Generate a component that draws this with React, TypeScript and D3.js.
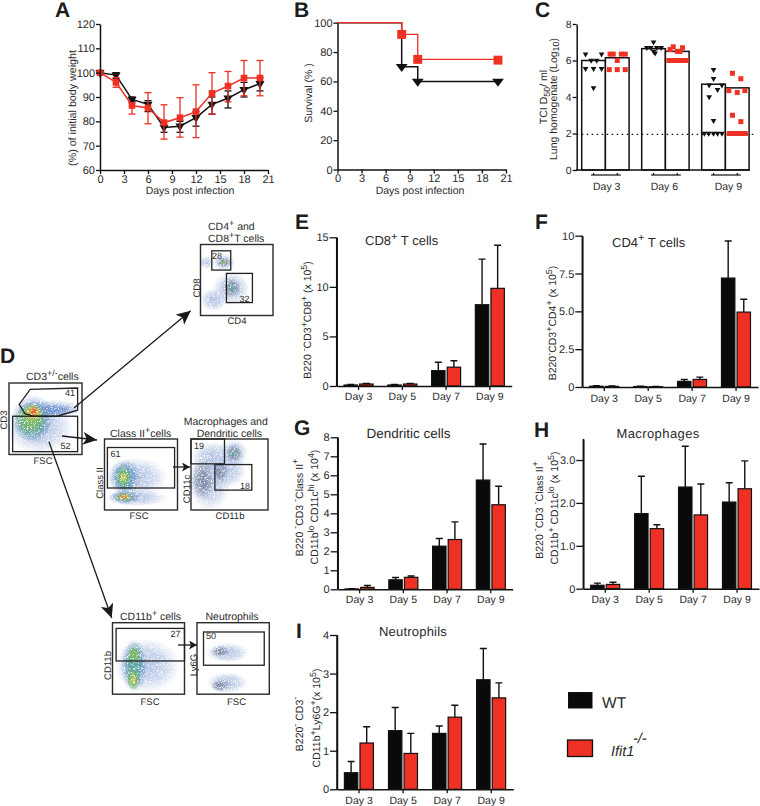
import React, { useEffect, useRef } from 'react';
import * as d3 from 'd3';

const RED = '#ee3124';
const INK = '#2a2a2a';
const FONT = '"Liberation Sans", Arial, sans-serif';

// panel A: weight
const weightDays = [0, 2, 4, 6, 8, 10, 12, 14, 16, 18, 20];
const weightWt = [100, 99, 89, 87, 77.5, 78, 81.5, 87, 89.5, 93, 95.5];
const weightWtHi = [100, 100, 90, 88.5, 80, 80, 84, 90, 92.5, 96, 98];
const weightWtLo = [100, 97.5, 88, 84, 75.5, 75.5, 78, 83, 85.5, 90, 92.5];
const weightKo = [100, 96, 86.5, 85.5, 79.5, 81.5, 84, 91.5, 94.5, 97.8, 97.8];
const weightKoHi = [100, 98, 87.5, 91.8, 86.8, 89.7, 95, 100, 100.5, 105, 105];
const weightKoLo = [100, 94, 83, 79, 72.7, 73.5, 73.3, 83, 88, 90.5, 90.5];

// panel B: survival
const survWtDays = [0, 8, 10, 20];
const survWt = [100, 70, 60, 60];
const survKoDays = [0, 8, 10, 20];
const survKo = [100, 92, 75, 75];
const survWtMarkDays = [8, 10, 20];
const survWtMarks = [70, 60, 60];
const survKoMarkDays = [8, 10, 20];
const survKoMarks = [92, 75, 74.5];

// panel C: titres
const titreDays = ['Day 3', 'Day 6', 'Day 9'];
const titreWtMean = [6.0, 6.65, 4.7];
const titreKoMean = [6.15, 6.5, 4.5];
const titreWt = [
  [6.35, 6.35, 6, 6, 5.55, 5.55, 5.55, 4.5],
  [7.0, 6.7, 6.7, 6.7, 6.7, 6.5, 6.4],
  [5.5, 5.0, 4.65, 4.65, 4.4, 4.0, 2.7, 2, 2, 2, 2, 2],
];
const titreWtSlots = [
  [-2, 2, -0.6, 0.8, -2, 0, 2, 0],
  [0, -1.7, -0.7, 0.8, 1.9, 0, 0.4],
  [0, 0, -1.1, 2.1, 1, -1.1, 0, -2.3, -1.2, 0, 1, 2.1],
];
const titreKo = [
  [6.35, 6.35, 6.35, 6.35, 6, 5.5, 5.5, 5.5],
  [6.75, 6.7, 6.6, 6.5, 6.5, 6, 6, 6, 6, 6],
  [5.3, 5.0, 4.35, 4.35, 4.25, 3.0, 2.65, 2, 2, 2, 2, 2],
];
const titreKoSlots = [
  [-1.8, -1, 1, 2, 0, -2, 0, 2],
  [-1, 1.3, -1.8, 0, 0.7, -2.1, -1, 0, 1.1, 2.3],
  [-1.2, 0.9, -2.1, 1.9, 0, -1.2, 0.9, -2, -1, 0, 1, 2],
];

// bar panels
const barDays = ['Day 3', 'Day 5', 'Day 7', 'Day 9'];
const cd8Wt = [0.1, 0.1, 1.55, 8.2];
const cd8Ko = [0.2, 0.2, 1.9, 9.85];
const cd8WtTop = [0.15, 0.15, 2.4, 12.8];
const cd8KoTop = [0.25, 0.25, 2.55, 14.2];
const cd4Wt = [0.05, 0.03, 0.37, 7.2];
const cd4Ko = [0.04, 0.02, 0.5, 4.95];
const cd4WtTop = [0.08, 0.05, 0.5, 9.65];
const cd4KoTop = [0.07, 0.04, 0.65, 5.8];
const dcWt = [0.02, 0.5, 2.27, 5.75];
const dcKo = [0.1, 0.63, 2.62, 4.45];
const dcWtTop = [0.03, 0.62, 2.67, 7.65];
const dcKoTop = [0.2, 0.7, 3.55, 5.42];
const macWt = [0.08, 1.75, 2.37, 2.02];
const macKo = [0.1, 1.4, 1.72, 2.33];
const macWtTop = [0.13, 2.62, 3.32, 2.47];
const macKoTop = [0.15, 1.49, 2.44, 2.98];
const neuWt = [0.43, 1.52, 1.45, 2.84];
const neuKo = [1.2, 0.93, 1.87, 2.37];
const neuWtTop = [0.72, 2.12, 1.64, 3.65];
const neuKoTop = [1.62, 1.45, 2.18, 2.76];

// flow plots: density clouds as [x%, y%, rx%, ry%, colour]
const HAZE = '#a9bbe0', BLUE = '#5f87cb', TEAL = '#55a79a', GREEN = '#7cba4e', YEL = '#dccb48', ORG = '#ec8a2c', HOT = '#e2401f', GREY = '#76829f';
type Blob = [number, number, number, number, string];
const cd3Blobs: Blob[] = [
  [42, 62, 46, 38, HAZE], [58, 36, 48, 13, HAZE], [33, 50, 30, 34, BLUE], [62, 38, 30, 9, BLUE],
  [31, 54, 25, 27, TEAL], [30, 50, 21, 23, GREEN], [33, 42, 14, 12, YEL], [34, 40, 8, 8, ORG], [34, 39, 5, 5, HOT],
];
const cd48Blobs: Blob[] = [
  [32, 25, 16, 12, HAZE], [8, 25, 10, 9, HAZE], [42, 62, 26, 24, HAZE], [18, 78, 18, 16, HAZE],
  [32, 25, 10, 7, GREY], [43, 61, 13, 14, GREY], [44, 60, 6, 8, TEAL], [32, 25, 5, 4, GREEN],
];
const classBlobs: Blob[] = [
  [44, 54, 42, 28, HAZE], [44, 83, 42, 12, HAZE], [28, 54, 22, 26, BLUE], [28, 82, 22, 10, BLUE],
  [27, 55, 15, 21, TEAL], [26, 54, 10, 15, GREEN], [27, 82, 14, 7, GREEN], [26, 54, 5, 7, YEL], [27, 81, 8, 4, ORG],
];
const macBlobs: Blob[] = [
  [24, 60, 28, 42, HAZE], [30, 26, 30, 22, HAZE], [56, 20, 18, 20, HAZE], [46, 45, 26, 24, HAZE],
  [56, 20, 11, 13, GREY], [15, 58, 15, 28, GREY], [38, 46, 10, 14, GREY], [56, 20, 5, 6, TEAL],
];
const cd11Blobs: Blob[] = [
  [48, 60, 46, 38, HAZE], [30, 60, 19, 38, BLUE], [30, 60, 14, 33, TEAL], [30, 45, 10, 13, GREEN], [29, 79, 10, 16, GREEN], [29, 80, 4, 7, YEL],
];
const neutBlobs: Blob[] = [
  [42, 42, 30, 14, HAZE], [42, 84, 28, 15, HAZE], [32, 40, 13, 8, GREY], [32, 88, 13, 9, GREY],
];

const axisAttrs = (g: d3.Selection<SVGGElement, unknown, null, undefined>, size: number) => {
  g.selectAll('.domain').attr('stroke', '#111').attr('stroke-width', 1.5);
  g.selectAll('.tick line').attr('stroke', '#111').attr('stroke-width', 1.3);
  g.selectAll('.tick text').attr('fill', INK).attr('font-size', size).attr('font-family', FONT);
};

function Axis({ axis, x = 0, y = 0, size = 11 }: { axis: any; x?: number; y?: number; size?: number }) {
  const ref = useRef<SVGGElement>(null);
  useEffect(() => {
    const g = d3.select(ref.current as SVGGElement);
    g.call(axis);
    axisAttrs(g, size);
  });
  return <g ref={ref} transform={`translate(${x},${y})`} />;
}

type Run = string | [string, 'sup' | 'sub'];
function Rich({ x, y, runs, size = 10.5, rotate, anchor, italic, spacing }: { x: number; y: number; runs: Run[]; size?: number; rotate?: boolean; anchor?: string; italic?: boolean; spacing?: number }) {
  let shift = 0;
  const spans = runs.map((r, i) => {
    const kind = typeof r === 'string' ? '' : r[1];
    const txt = typeof r === 'string' ? r : r[0];
    const target = kind === 'sup' ? -size * 0.42 : kind === 'sub' ? size * 0.25 : 0;
    const dy = target - shift;
    shift = target;
    return <tspan key={i} dy={dy} fontSize={kind ? size * 0.85 : size}>{txt}</tspan>;
  });
  return (
    <text x={rotate ? 0 : x} y={rotate ? 0 : y} transform={rotate ? `translate(${x},${y}) rotate(-90)` : undefined}
      fill={INK} fontFamily={FONT} fontSize={size} fontStyle={italic ? 'italic' : undefined} textAnchor={anchor || (rotate ? 'middle' : 'start')} letterSpacing={spacing}>
      {spans}
    </text>
  );
}

const triangle = (size: number) => d3.symbol().type(d3.symbolTriangle).size(size)() as string;
const square = (size: number) => d3.symbol().type(d3.symbolSquare).size(size)() as string;

function WeightPanel() {
  const x = d3.scaleLinear().domain([0, 21]).range([100, 268]);
  const y = d3.scaleLinear().domain([60, 120]).range([170, 24]);
  const line = d3.line<number>().x((_, i) => x(weightDays[i])).y(d => y(d));
  const series = [
    { v: weightWt, hi: weightWtHi, lo: weightWtLo, color: '#111', mark: triangle(36), rot: 180 },
    { v: weightKo, hi: weightKoHi, lo: weightKoLo, color: RED, mark: square(44), rot: 0 },
  ];
  return (
    <g>
      {series.map((s, k) => (
        <g key={k}>
          {weightDays.map((d, i) => (
            <g key={d} stroke={s.color} strokeWidth={1.3}>
              <line x1={x(d)} x2={x(d)} y1={y(s.hi[i])} y2={y(s.lo[i])} />
              <line x1={x(d) - 3.5} x2={x(d) + 3.5} y1={y(s.hi[i])} y2={y(s.hi[i])} />
              <line x1={x(d) - 3.5} x2={x(d) + 3.5} y1={y(s.lo[i])} y2={y(s.lo[i])} />
            </g>
          ))}
          <path d={line(s.v) as string} fill="none" stroke={s.color} strokeWidth={1.5} />
          {weightDays.map((d, i) => (
            <path key={d} d={s.mark} fill={s.color} transform={`translate(${x(d)},${y(s.v[i])}) rotate(${s.rot})`} />
          ))}
        </g>
      ))}
      <Axis axis={d3.axisLeft(y).tickValues([60, 70, 80, 90, 100, 110, 120]).tickSize(4).tickPadding(1).tickSizeOuter(0)} x={100} />
      <Axis axis={d3.axisBottom(x).tickValues(d3.range(0, 22, 3)).tickSize(4).tickPadding(1).tickSizeOuter(0)} y={170} />
      <Rich x={75.5} y={108} rotate runs={['(%) of initial body weight']} size={10.7} />
      <Rich x={190} y={194} anchor="middle" runs={['Days post infection']} size={10.5} />
    </g>
  );
}

function SurvivalPanel() {
  const x = d3.scaleLinear().domain([0, 21]).range([337.5, 506]);
  const y = d3.scaleLinear().domain([0, 100]).range([169.5, 22.7]);
  const step = d3.line<number>().curve(d3.curveStepAfter);
  const path = (days: number[], vals: number[]) => step.x((_, i) => x(days[i])).y(d => y(d))(vals) as string;
  return (
    <g>
      <path d={path(survWtDays, survWt)} fill="none" stroke="#111" strokeWidth={1.5} />
      {survWtMarkDays.map((d, i) => (
        <path key={d} d={triangle(46)} fill="#111" transform={`translate(${x(d)},${y(survWtMarks[i])}) rotate(180) scale(1.15,0.9)`} />
      ))}
      <path d={path(survKoDays, survKo)} fill="none" stroke={RED} strokeWidth={1.3} />
      {survKoMarkDays.map((d, i) => (
        <path key={d} d={square(80)} fill={RED} transform={`translate(${x(d)},${y(survKoMarks[i])})`} />
      ))}
      <Axis axis={d3.axisLeft(y).tickValues([0, 20, 40, 60, 80, 100]).tickSize(4).tickPadding(1).tickSizeOuter(0)} x={337.5} />
      <Axis axis={d3.axisBottom(x).tickValues(d3.range(0, 22, 3)).tickSize(4).tickPadding(1).tickSizeOuter(0)} y={169.5} />
      <Rich x={312} y={93} rotate runs={['Survival (% )']} size={10.5} />
      <Rich x={420} y={194} anchor="middle" runs={['Days post infection']} size={10.5} />
    </g>
  );
}

function TitrePanel() {
  const y = d3.scaleLinear().domain([0, 8]).range([170, 24]);
  const x = d3.scaleBand<string>().domain(titreDays).range([581.7, 749.1]).paddingInner(0.21);
  const barW = x.bandwidth() / 2;
  const slotPx = 4;
  const labelNudge = [1.3, -1, 3];
  return (
    <g>
      {titreDays.map((d, i) => {
        const x0 = x(d) as number;
        const xW = x0 + barW / 2;
        const xK = x0 + barW * 1.5;
        return (
          <g key={d}>
            <rect x={x0} width={barW} y={y(titreWtMean[i])} height={y(0) - y(titreWtMean[i])} fill="#fff" stroke="#111" strokeWidth={1.5} />
            <rect x={x0 + barW} width={barW} y={y(titreKoMean[i])} height={y(0) - y(titreKoMean[i])} fill="#fff" stroke="#111" strokeWidth={1.5} />
            <path d={`M${xW},173V175M${xK},173V175`} stroke="#111" strokeWidth={1.2} />
            <line x1={xW - 2.5} x2={xK + 3.5} y1={175} y2={175} stroke="#111" strokeWidth={1.2} />
            <Rich x={x0 + barW + labelNudge[i]} y={189.5} anchor="middle" runs={[d]} size={10.5} />
          </g>
        );
      })}
      <line x1={576.7} x2={756} y1={y(1.95)} y2={y(1.95)} stroke="#111" strokeWidth={1.3} strokeDasharray="1.5 3.5" />
      {titreDays.map((d, i) => {
        const x0 = x(d) as number;
        const xW = x0 + barW / 2;
        const xK = x0 + barW * 1.5;
        return (
          <g key={d}>
            {titreWt[i].map((v, j) => (
              <path key={j} d={triangle(14)} fill="#111" transform={`translate(${xW + titreWtSlots[i][j] * slotPx},${y(v)}) rotate(180)`} />
            ))}
            {titreKo[i].map((v, j) => (
              <path key={j} d={square(25)} fill={RED} transform={`translate(${xK + titreKoSlots[i][j] * slotPx},${y(v)})`} />
            ))}
          </g>
        );
      })}
      <Axis axis={d3.axisLeft(y).tickValues([0, 2, 4, 6, 8]).tickSize(4).tickPadding(1).tickSizeOuter(0)} x={576.7} size={10.5} />
      <line x1={576} x2={750} y1={170} y2={170} stroke="#111" strokeWidth={1.5} />
      <Rich x={547} y={97} rotate runs={['TCI D', ['50', 'sub'], '/ ml']} size={10.5} />
      <Rich x={556.5} y={99} rotate runs={['Lung homogenate (Log', ['10', 'sub'], ')']} size={10.5} />
    </g>
  );
}

type BarProps = {
  x0: number; x1: number; top: number; bottom: number; max: number;
  ticks: number[]; fmt?: (v: number) => string;
  wt: number[]; ko: number[]; wtTop: number[]; koTop: number[]; labelY: number;
};

function BarPanel({ x0, x1, top, bottom, max, ticks, fmt, wt, ko, wtTop, koTop, labelY }: BarProps) {
  const y = d3.scaleLinear().domain([0, max]).range([bottom, top]);
  const x = d3.scaleBand<string>().domain(barDays).range([x0, x1]);
  const inner = d3.scaleBand<string>().domain(['wt', 'ko']).range([7.4, 36.4]).paddingInner(0.14);
  const w = inner.bandwidth();
  const groups = [
    { key: 'wt', v: wt, t: wtTop, fill: '#0a0a0a' },
    { key: 'ko', v: ko, t: koTop, fill: RED },
  ];
  return (
    <g>
      {barDays.map((d, i) => (
        <g key={d}>
          {groups.map(g => {
            const bx = (x(d) as number) + (inner(g.key) as number);
            return (
              <g key={g.key}>
                <path d={`M${bx + w / 2},${y(g.v[i])}V${y(g.t[i])}M${bx + w / 2 - 3.5},${y(g.t[i])}h7`} stroke="#111" strokeWidth={1.4} fill="none" />
                <rect x={bx} width={w} y={y(g.v[i])} height={y(0) - y(g.v[i])} fill={g.fill} stroke="#111" strokeWidth={1.2} />
              </g>
            );
          })}
        </g>
      ))}
      <Axis axis={d3.axisLeft(y).tickValues(ticks).tickSize(7).tickPadding(1).tickSizeOuter(0).tickFormat((v: any) => (fmt ? fmt(v) : String(v)))} x={x0} />
      <line x1={x0} x2={x0} y1={top} y2={bottom} stroke="#111" strokeWidth={1.5} />
      <Axis axis={d3.axisBottom(x).tickSize(4).tickSizeOuter(0).tickFormat(() => '')} y={bottom} />
      {barDays.map(d => (
        <Rich key={d} x={(x(d) as number) + x.bandwidth() / 2} y={labelY} anchor="middle" runs={[d]} size={10.5} />
      ))}
    </g>
  );
}

function FlowPlot({ id, x, y, w, h, blobs, gates, poly }: { id: string; x: number; y: number; w: number; h: number; blobs: Blob[]; gates: number[][]; poly?: number[][] }) {
  const sx = d3.scaleLinear().domain([0, 100]).range([x, x + w]);
  const sy = d3.scaleLinear().domain([0, 100]).range([y, y + h]);
  const polyLine = d3.line<number[]>().x(d => sx(d[0])).y(d => sy(d[1])).curve(d3.curveLinearClosed);
  return (
    <g>
      <clipPath id={id}><rect x={x} y={y} width={w} height={h} /></clipPath>
      <g clipPath={`url(#${id})`}>
        <g filter="url(#grain)">
          {blobs.map((b, i) => (
            <ellipse key={i} cx={sx(b[0])} cy={sy(b[1])} rx={sx(b[2]) - x} ry={sy(b[3]) - y} fill={`url(#g${b[4].slice(1)})`} />
          ))}
        </g>
      </g>
      <rect x={x} y={y} width={w} height={h} fill="none" stroke="#2b2b2b" strokeWidth={1.4} />
      {gates.map((g, i) => (
        <rect key={i} x={sx(g[0])} y={sy(g[1])} width={sx(g[2]) - sx(g[0])} height={sy(g[3]) - sy(g[1])} fill="none" stroke="#222" strokeWidth={1.3} />
      ))}
      {poly && <path d={polyLine(poly) as string} fill="none" stroke="#222" strokeWidth={1.3} />}
    </g>
  );
}

function Arrow({ from, to, big = true }: { from: number[]; to: number[]; big?: boolean }) {
  return <line x1={from[0]} y1={from[1]} x2={to[0]} y2={to[1]} stroke="#1a1a1a" strokeWidth={1.3} markerEnd={`url(#${big ? 'headBig' : 'headSmall'})`} />;
}

function PanelLetter({ x, y, t }: { x: number; y: number; t: string }) {
  return <text x={x} y={y} fontFamily={FONT} fontWeight="bold" fontSize={21} fill="#1c1c1c">{t}</text>;
}

export default function App() {
  const blobColors = [HAZE, BLUE, TEAL, GREEN, YEL, ORG, HOT, GREY];
  return (
    <svg width={760} height={806} style={{ position: 'absolute', left: 0, top: 0, background: '#fff', textRendering: 'geometricPrecision' }}>
      <defs>
        {blobColors.map(c => (
          <radialGradient key={c} id={`g${c.slice(1)}`}>
            <stop offset="0%" stopColor={c} stopOpacity={0.9} />
            <stop offset="55%" stopColor={c} stopOpacity={0.6} />
            <stop offset="100%" stopColor={c} stopOpacity={0} />
          </radialGradient>
        ))}
        <filter id="grain" x="0" y="0" width="100%" height="100%">
          <feTurbulence type="fractalNoise" baseFrequency="1.7" numOctaves={1} seed={4} result="n" />
          <feColorMatrix in="n" type="matrix" values="0 0 0 0 0  0 0 0 0 0  0 0 0 0 0  4 0 0 0 -1" result="m" />
          <feComposite in="SourceGraphic" in2="m" operator="in" />
        </filter>
        <marker id="headBig" markerUnits="userSpaceOnUse" markerWidth={16} markerHeight={14} refX={14} refY={6.5} orient="auto">
          <path d="M0,0L14,6.5L0,13L3.5,6.5Z" fill="#1a1a1a" />
        </marker>
        <marker id="headSmall" markerUnits="userSpaceOnUse" markerWidth={10} markerHeight={10} refX={8} refY={4.5} orient="auto">
          <path d="M0,0L8,4.5L0,9L2,4.5Z" fill="#1a1a1a" />
        </marker>
      </defs>

      <PanelLetter x={55} y={16.5} t="A" />
      <PanelLetter x={294} y={16.5} t="B" />
      <PanelLetter x={535} y={16.5} t="C" />
      <PanelLetter x={0} y={363} t="D" />
      <PanelLetter x={295} y={229} t="E" />
      <PanelLetter x={535} y={229} t="F" />
      <PanelLetter x={294} y={435} t="G" />
      <PanelLetter x={534} y={436.5} t="H" />
      <PanelLetter x={296} y={638} t="I" />

      <WeightPanel />
      <SurvivalPanel />
      <TitrePanel />

      {/* D: gating scheme */}
      <FlowPlot id="c1" x={9} y={383} w={73} h={71.5} blobs={cd3Blobs} gates={[[5, 46.5, 94, 96]]}
        poly={[[94, 7], [29, 9], [14, 30], [22, 43], [33.5, 46.5], [65.6, 46.5], [94, 38]]} />
      <FlowPlot id="c2" x={200.5} y={244.5} w={72.5} h={71} blobs={cd48Blobs} gates={[[15.6, 8.9, 41.7, 36], [35.8, 40.7, 71.6, 81.8]]} />
      <FlowPlot id="c3" x={104.5} y={439} w={73} h={71} blobs={classBlobs} gates={[[4, 12, 96, 69]]} />
      <FlowPlot id="c4" x={191} y={439} w={77} h={71} blobs={macBlobs} gates={[[0, 0, 43.5, 35], [31, 36, 79, 72]]} />
      <FlowPlot id="c5" x={112.5} y={622.7} w={72} h={71.5} blobs={cd11Blobs} gates={[[5, 8, 100, 53.5]]} />
      <FlowPlot id="c6" x={197} y={622.7} w={72.3} h={71.5} blobs={neutBlobs} gates={[[9, 13, 93, 59.5]]} />

      <Arrow from={[74, 408]} to={[190.7, 310.7]} />
      <Arrow from={[62, 436]} to={[97, 440]} />
      <Arrow from={[49, 441.7]} to={[111.7, 618]} />
      <Arrow from={[173, 467]} to={[190, 467]} big={false} />
      <Arrow from={[178, 645]} to={[197, 645]} big={false} />

      <Rich x={26} y={380} runs={['CD3', ['+/-', 'sup'], 'cells']} size={10.5} />
      <Rich x={7} y={420} rotate runs={['CD3']} size={9.5} />
      <Rich x={43} y={464} anchor="middle" runs={['FSC']} size={9.5} />
      <Rich x={65} y={395.5} runs={['41']} size={9} />
      <Rich x={60.5} y={449} runs={['52']} size={9} />
      <Rich x={208} y={230} runs={['CD4', ['+', 'sup'], '  and']} size={10.5} />
      <Rich x={208} y={242} runs={['CD8', ['+', 'sup'], 'T cells']} size={10.5} />
      <Rich x={200} y={288} rotate runs={['CD8']} size={9.5} anchor="middle" />
      <Rich x={237} y={324} anchor="middle" runs={['CD4']} size={9.5} />
      <Rich x={212} y={259} runs={['28']} size={9} />
      <Rich x={239.5} y={301.5} runs={['32']} size={9} />
      <Rich x={110} y={437} runs={['Class II', ['+', 'sup'], 'cells']} size={10.5} />
      <Rich x={183.7} y={425} runs={['Macrophages and']} size={10.5} />
      <Rich x={196.7} y={437} runs={['Dendritic cells']} size={10.5} />
      <Rich x={110.5} y={457} runs={['61']} size={9} />
      <Rich x={194} y={449} runs={['19']} size={9} />
      <Rich x={240} y={489} runs={['18']} size={9} />
      <Rich x={103} y={483} rotate runs={['Class II']} size={9.5} />
      <Rich x={190} y={489} rotate runs={['CD11c']} size={9.5} />
      <Rich x={139} y={519} anchor="middle" runs={['FSC']} size={9.5} />
      <Rich x={230} y={519} anchor="middle" runs={['CD11b']} size={9.5} />
      <Rich x={120} y={620} runs={['CD11b', ['+', 'sup'], ' cells']} size={10.5} />
      <Rich x={205.5} y={620} runs={['Neutrophils']} size={10.5} />
      <Rich x={170.5} y={636.5} runs={['27']} size={9} />
      <Rich x={206} y={639} runs={['50']} size={9} />
      <Rich x={111} y={665.5} rotate runs={['CD11b']} size={9.5} />
      <Rich x={197} y={665} rotate runs={['Ly6G']} size={9.5} />
      <Rich x={150} y={705} anchor="middle" runs={['FSC']} size={9.5} />
      <Rich x={236.5} y={705} anchor="middle" runs={['FSC']} size={9.5} />

      {/* E-I */}
      <BarPanel x0={336.7} x1={511.7} top={237.3} bottom={386} max={15} ticks={[0, 5, 10, 15]} wt={cd8Wt} ko={cd8Ko} wtTop={cd8WtTop} koTop={cd8KoTop} labelY={400} />
      <Rich x={365} y={245} runs={['CD8', ['+', 'sup'], ' T cells']} size={13} />
      <Rich x={311} y={320} rotate runs={['B220 ', ['-', 'sup'], 'CD3', ['+', 'sup'], 'CD8', ['+', 'sup'], ' (x 10', ['5', 'sup'], ')']} size={10.5} />

      <BarPanel x0={582.3} x1={758} top={235.7} bottom={387} max={10} ticks={[0, 2.5, 5, 7.5, 10]} fmt={v => (v === 0 || v === 10 ? String(v) : v.toFixed(1))} wt={cd4Wt} ko={cd4Ko} wtTop={cd4WtTop} koTop={cd4KoTop} labelY={401.5} />
      <Rich x={612} y={246.5} runs={['CD4', ['+', 'sup'], ' T cells']} size={13} />
      <Rich x={556} y={323} rotate runs={['B220', ['-', 'sup'], 'CD3', ['+', 'sup'], 'CD4', ['+', 'sup'], ' (x 10', ['5', 'sup'], ')']} size={10.5} />

      <BarPanel x0={337.7} x1={512.7} top={437.3} bottom={589.3} max={8} ticks={[0, 1, 2, 3, 4, 5, 6, 7, 8]} wt={dcWt} ko={dcKo} wtTop={dcWtTop} koTop={dcKoTop} labelY={603} />
      <Rich x={366.5} y={438} runs={['Dendritic cells']} size={13.5} />
      <Rich x={302.5} y={507.5} rotate runs={['B220 ', ['-', 'sup'], 'CD3 ', ['-', 'sup'], 'Class II', ['+', 'sup']]} size={10.5} />
      <Rich x={318} y={507} rotate runs={['CD11b', ['lo', 'sup'], ' CD11c', ['hi', 'sup'], ' (x 10', ['4', 'sup'], ')']} size={10.5} />

      <BarPanel x0={583.3} x1={759} top={439} bottom={588.7} max={3.49} ticks={[0, 1, 2, 3]} fmt={v => (v === 0 ? '0' : v.toFixed(1))} wt={macWt} ko={macKo} wtTop={macWtTop} koTop={macKoTop} labelY={603} />
      <Rich x={616.5} y={438} runs={['Macrophages']} size={13} spacing={0.4} />
      <Rich x={542.5} y={510} rotate runs={['B220 ', ['-', 'sup'], 'CD3 ', ['-', 'sup'], 'Class II', ['+', 'sup']]} size={10.5} />
      <Rich x={558} y={508} rotate runs={['CD11b', ['+', 'sup'], ' CD11c', ['lo', 'sup'], ' (x 10', ['5', 'sup'], ')']} size={10.5} />

      <BarPanel x0={337} x1={513.3} top={635} bottom={789.3} max={4} ticks={[0, 1, 2, 3, 4]} wt={neuWt} ko={neuKo} wtTop={neuWtTop} koTop={neuKoTop} labelY={804} />
      <Rich x={379} y={635.5} runs={['Neutrophils']} size={13} spacing={0.2} />
      <Rich x={302.5} y={724} rotate runs={['B220', ['-', 'sup'], ' CD3', ['-', 'sup']]} size={10.5} />
      <Rich x={320} y={718} rotate runs={['CD11b', ['+', 'sup'], 'Ly6G', ['+', 'sup'], '(x 10', ['5', 'sup'], ')']} size={10.5} />

      {/* legend */}
      <rect x={568.5} y={692.5} width={23.5} height={15.5} fill="#0a0a0a" stroke="#111" />
      <Rich x={602} y={708} runs={['WT']} size={15.5} />
      <rect x={567.5} y={740} width={25} height={16.5} fill={RED} stroke="#111" strokeWidth={1.3} />
      <Rich x={611} y={756} italic runs={['Ifit1']} size={14.5} />
      <Rich x={633} y={743} italic runs={['-/-']} size={14.5} />
    </svg>
  );
}
